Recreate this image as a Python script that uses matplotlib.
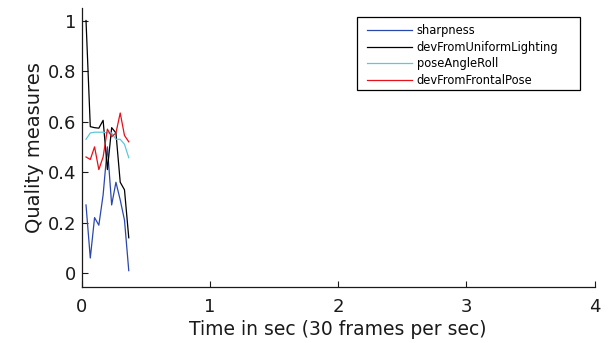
import matplotlib
matplotlib.use("Agg")
import matplotlib.pyplot as plt
from matplotlib.patches import Rectangle

plt.rcParams['font.family'] = ['DejaVu Sans']

frames = list(range(1, 12))
time_sec = [f / 30 for f in frames]
sharpness = [0.27, 0.06, 0.22, 0.19, 0.31, 0.50, 0.27, 0.36, 0.29, 0.21, 0.01]
dev_uniform_lighting = [1.0, 0.58, 0.576, 0.574, 0.605, 0.41, 0.576, 0.555, 0.36, 0.33, 0.14]
pose_angle_roll = [0.53, 0.555, 0.558, 0.558, 0.558, 0.555, 0.555, 0.53, 0.53, 0.51, 0.457]
dev_frontal_pose = [0.46, 0.45, 0.50, 0.41, 0.46, 0.57, 0.54, 0.555, 0.634, 0.545, 0.52]

series_names = ["sharpness", "devFromUniformLighting", "poseAngleRoll", "devFromFrontalPose"]
x_ticks = [0, 1, 2, 3, 4]
y_ticks = [0, 0.2, 0.4, 0.6, 0.8, 1]
y_tick_labels = ["0", "0.2", "0.4", "0.6", "0.8", "1"]

fig = plt.figure(figsize=(6.1, 3.43), dpi=100)
ax = fig.add_axes([0.134, 0.163, 0.841, 0.814])

colors = ["#2a47b0", "#000000", "#5cc8dc", "#e8101a"]
for vals, name, c in zip([sharpness, dev_uniform_lighting, pose_angle_roll, dev_frontal_pose], series_names, colors):
    ax.plot(time_sec, vals, color=c, lw=0.9, label=name)

ax.set_xlim(0, 4)
ax.set_ylim(-0.055, 1.05)
ax.set_xticks(x_ticks)
ax.set_xticklabels([str(t) for t in x_ticks])
ax.set_yticks(y_ticks)
ax.set_yticklabels(y_tick_labels)
ax.tick_params(direction='in', length=4, labelsize=13, width=0.8, colors='#1a1a1a')
ax.tick_params(axis='x', pad=8)
ax.tick_params(axis='y', pad=4)
ax.spines['top'].set_visible(False)
ax.spines['right'].set_visible(False)
for s in ['left', 'bottom']:
    ax.spines[s].set_linewidth(0.9)
    ax.spines[s].set_color('#1a1a1a')

ax.set_xlabel("Time in sec (30 frames per sec)", fontsize=13.5, labelpad=3, color='#1a1a1a')
ax.set_ylabel("Quality measures", fontsize=14, labelpad=3, color='#1a1a1a')

# legend frame (MATLAB style, extra room on the right)
frame = Rectangle((0.536, 0.706), 0.435, 0.262, transform=ax.transAxes,
                  facecolor='white', edgecolor='black', linewidth=0.9, zorder=4)
ax.add_patch(frame)

leg = ax.legend(loc='upper left', bbox_to_anchor=(0.5555, 0.943), borderaxespad=0,
                fontsize=8.3, handlelength=3.9, handletextpad=0.45,
                frameon=False, borderpad=0, labelspacing=0.33)
leg.set_zorder(5)

fig.savefig("out.png", dpi=100)
